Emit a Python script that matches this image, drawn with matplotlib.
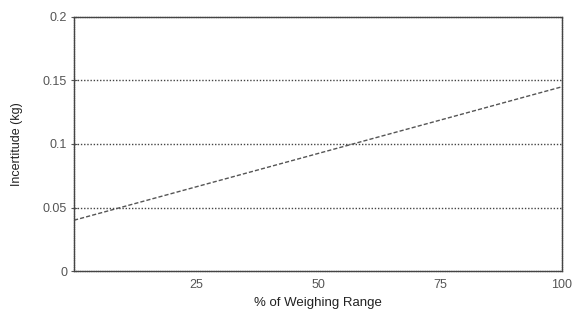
import matplotlib
matplotlib.use("Agg")
import matplotlib.pyplot as plt

# données
pct_range = [0, 100]
incertitude = [0.04, 0.145]
xticks = [25, 50, 75, 100]
yticks = [0, 0.05, 0.1, 0.15, 0.2]
ytick_labels = ["0", "0.05", "0.1", "0.15", "0.2"]

plt.rcParams['font.family'] = ['Liberation Sans', 'DejaVu Sans']

fig = plt.figure(figsize=(5.74, 3.25), dpi=100)
ax = fig.add_axes([0.129, 0.166, 0.850, 0.782])

for yv in yticks[1:-1]:
    ax.axhline(yv, color="#444444", lw=1.0, ls=(0, (1, 1.3)), zorder=1)

ax.plot(pct_range, incertitude, color="#555555", lw=1.0, ls=(0, (3, 1.5)), zorder=2)

ax.set_xlim(0, 100)
ax.set_ylim(0, 0.2)
ax.set_xticks(xticks)
ax.set_yticks(yticks)
ax.set_yticklabels(ytick_labels)
ax.tick_params(axis="both", labelsize=9, labelcolor="#555555", color="#555555",
               length=3, width=0.8)
ax.tick_params(axis="x", length=0, pad=6)
ax.tick_params(axis="y", direction="inout", length=4, pad=3)

for s in ax.spines.values():
    s.set_color("#444444")
    s.set_linewidth(1.0)
    s.set_linestyle((0, (1, 0.6)))

ax.set_xlabel("% of Weighing Range", fontsize=9.5, color="#222222", labelpad=4)
ax.set_ylabel("Incertitude (kg)", fontsize=9, color="#222222", labelpad=14)

fig.savefig("out.png", dpi=100)
